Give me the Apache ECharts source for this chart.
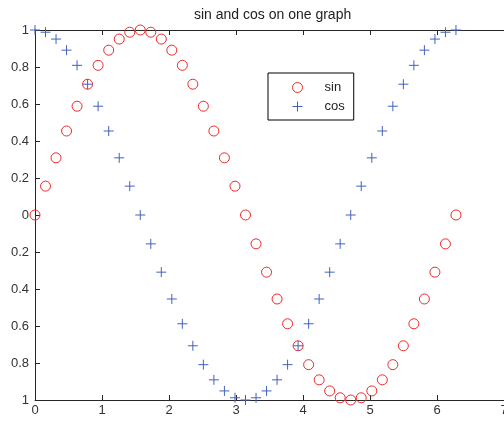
<!DOCTYPE html>
<html>
<head>
<meta charset="utf-8">
<script src="https://cdn.jsdelivr.net/npm/echarts@6/dist/echarts.min.js"></script>
<style>html,body{margin:0;padding:0;background:#fff;}#c{width:504px;height:423px;}</style>
</head>
<body>
<div id="c"></div>
<script>
const xValues = [0, 0.157, 0.314, 0.471, 0.628, 0.785, 0.942, 1.100, 1.257, 1.414, 1.571, 1.728, 1.885, 2.042, 2.199, 2.356, 2.513, 2.670, 2.827, 2.985, 3.142, 3.299, 3.456, 3.613, 3.770, 3.927, 4.084, 4.241, 4.398, 4.555, 4.712, 4.869, 5.027, 5.184, 5.341, 5.498, 5.655, 5.812, 5.969, 6.126, 6.283];
const sinValues = [0, 0.156, 0.309, 0.454, 0.588, 0.707, 0.809, 0.891, 0.951, 0.988, 1, 0.988, 0.951, 0.891, 0.809, 0.707, 0.588, 0.454, 0.309, 0.156, 0, -0.156, -0.309, -0.454, -0.588, -0.707, -0.809, -0.891, -0.951, -0.988, -1, -0.988, -0.951, -0.891, -0.809, -0.707, -0.588, -0.454, -0.309, -0.156, 0];
const cosValues = [1, 0.988, 0.951, 0.891, 0.809, 0.707, 0.588, 0.454, 0.309, 0.156, 0, -0.156, -0.309, -0.454, -0.588, -0.707, -0.809, -0.891, -0.951, -0.988, -1, -0.988, -0.951, -0.891, -0.809, -0.707, -0.588, -0.454, -0.309, -0.156, 0, 0.156, 0.309, 0.454, 0.588, 0.707, 0.809, 0.891, 0.951, 0.988, 1];
const yTickLabels = ["1", "0.8", "0.6", "0.4", "0.2", "0", "0.2", "0.4", "0.6", "0.8", "1"];
const xTickLabels = ["0", "1", "2", "3", "4", "5", "6", "7"];
const titleText = "sin and cos on one graph";

const font = "Liberation Sans";
const axisColor = "#262626";
const red = "#ee2a2a";
const blue = "#4262bf";

const chart = echarts.init(document.getElementById('c'), null, {renderer: 'canvas'});
const axisCommon = {
  min: 0, max: 7, interval: 1,
  axisLine: {show: true, onZero: false, lineStyle: {color: axisColor, width: 1}},
  axisTick: {show: true, inside: true, length: 5, lineStyle: {color: axisColor}},
  splitLine: {show: false}
};
chart.setOption({
  animation: false,
  backgroundColor: '#fff',
  title: {
    text: titleText, left: 189, top: 3,
    textStyle: {fontFamily: font, fontSize: 14, fontWeight: 'normal', color: '#222'}
  },
  grid: {left: 35, top: 30, right: 0, bottom: 23, containLabel: false, outerBoundsMode: 'none'},
  legend: {
    left: 268, top: 73, orient: 'vertical',
    borderColor: '#000', borderWidth: 1, backgroundColor: '#fff',
    padding: [8, 9, 7, 24], itemGap: 6, itemWidth: 44, itemHeight: 10,
    itemStyle: {borderWidth: 1},
    textStyle: {fontFamily: font, fontSize: 13, color: '#222'},
    data: [
      {name: 'sin', itemStyle: {color: 'rgba(0,0,0,0)', borderColor: red, borderWidth: 1}},
      {name: 'cos', itemStyle: {color: 'rgba(0,0,0,0)', borderColor: blue, borderWidth: 1}}
    ]
  },
  xAxis: [
    Object.assign({}, axisCommon, {
      type: 'value', position: 'bottom',
      axisLabel: {show: true, margin: 4, fontFamily: font, fontSize: 13, color: '#333',
        formatter: v => xTickLabels[Math.round(v)]}
    }),
    Object.assign({}, axisCommon, {
      type: 'value', position: 'top', axisLabel: {show: false}
    })
  ],
  yAxis: [{
    type: 'value', min: -1, max: 1, interval: 0.2,
    axisLine: {show: true, onZero: false, lineStyle: {color: axisColor, width: 1}},
    axisTick: {show: true, inside: true, length: 5, lineStyle: {color: axisColor}},
    splitLine: {show: false},
    axisLabel: {show: true, margin: 6, fontFamily: font, fontSize: 13, color: '#333',
      formatter: v => yTickLabels[Math.round((1 - v) / 0.2)]}
  }],
  series: [
    {
      name: 'sin', type: 'scatter', xAxisIndex: 0, yAxisIndex: 0,
      symbol: 'circle', symbolSize: 10,
      itemStyle: {color: 'rgba(0,0,0,0)', borderColor: red, borderWidth: 1, opacity: 1},
      data: xValues.map((x, i) => [x, sinValues[i]]),
      z: 3
    },
    {
      name: 'cos', type: 'scatter', xAxisIndex: 0, yAxisIndex: 0,
      symbol: 'path://M0,5L10,5M5,0L5,10', symbolSize: 10,
      itemStyle: {color: 'rgba(0,0,0,0)', borderColor: blue, borderWidth: 1, opacity: 1},
      data: xValues.map((x, i) => [x, cosValues[i]]),
      z: 4
    }
  ]
});
</script>
</body>
</html>
